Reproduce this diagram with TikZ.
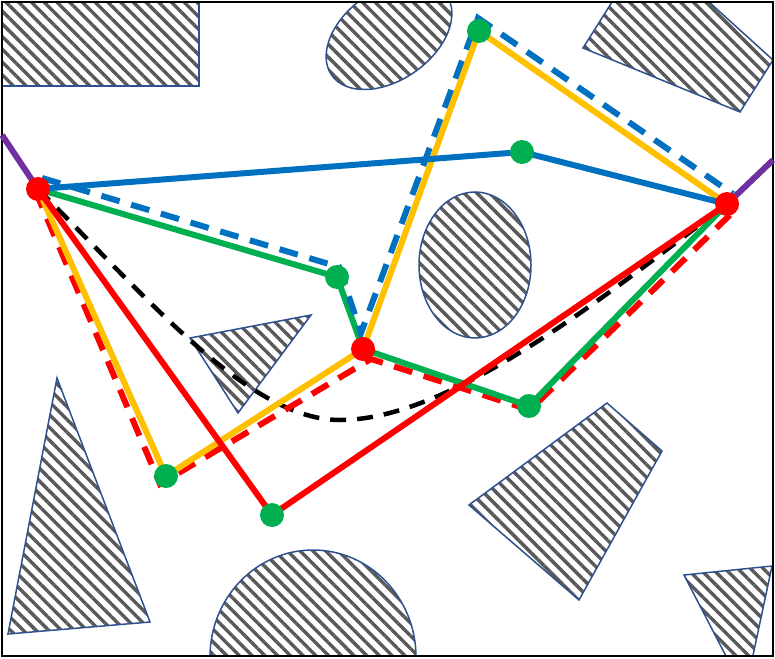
\documentclass[tikz,border=0pt]{standalone}
\usetikzlibrary{patterns.meta}

\definecolor{obsblue}{RGB}{47,82,143}
\definecolor{hatchgray}{RGB}{89,89,89}
\definecolor{pathblue}{RGB}{0,112,192}
\definecolor{pathgreen}{RGB}{0,176,80}
\definecolor{pathyellow}{RGB}{255,192,0}
\definecolor{pathred}{RGB}{255,0,0}
\definecolor{pathpurple}{RGB}{112,48,160}

\tikzset{
    obstacle/.style={draw=obsblue, line width=1.5pt,
        pattern={Lines[angle=-45, distance=9pt, line width=3.4pt]},
        pattern color=hatchgray},
    longdash/.style={dash pattern=on 19pt off 12pt},
}

\begin{document}
\begin{tikzpicture}[x=1pt, y=-1pt]
\useasboundingbox (0,0) rectangle (775,658);

% coordinates
\coordinate (S) at (38,189);
\coordinate (G) at (727,204);
\coordinate (M) at (363,349);
\coordinate (A) at (479,31);
\coordinate (B) at (522,152);
\coordinate (C) at (337,277);
\coordinate (D) at (529,406);
\coordinate (E) at (166,476);
\coordinate (F) at (272,515);
\coordinate (wl) at (2,135);
\coordinate (wr) at (773,160);

% obstacles
\begin{scope}
    \clip (2,2) rectangle (773,656);
    \draw[obstacle] (2,2) rectangle (199,86);
    \draw[obstacle, rotate around={35:(389,35)}] (389,35) ellipse [x radius=70, y radius=45];
    \draw[obstacle] (612,2) -- (583,48) -- (740,112) -- (773,60) -- (709,2) -- cycle;
    \draw[obstacle] (475,265) ellipse [x radius=56, y radius=73];
    \draw[obstacle] (190,338) -- (311,315) -- (238,413) -- cycle;
    \draw[obstacle] (57,378) -- (8,634) -- (150,622) -- cycle;
    \draw[obstacle] (313,657) ellipse [x radius=103, y radius=107];
    \draw[obstacle] (607,403) -- (662,451) -- (579,600) -- (469,505) -- cycle;
    \draw[obstacle] (684,575) -- (772,566) -- (752,660) -- (728,660) -- cycle;
\end{scope}

% frame
\draw[line width=2pt] (2,2) rectangle (773,656);

% paths
\begin{scope}[line width=6pt]
    \draw[pathpurple] (wl) -- (S);
    \draw[pathpurple] (G) -- (wr);
    \draw[black, line width=4.5pt, dash pattern=on 16pt off 11pt] (S)
        .. controls (150,301) and (250,420) .. (340,420)
        .. controls (450,420) and (600,300) .. (G);
    \draw[pathred, longdash] ([shift={(-3,1)}]S)
        -- ([shift={(-6,8)}]E)
        -- ([shift={(8,10)}]M)
        -- ([shift={(1,4)}]D)
        -- ([shift={(8,6)}]G);
    \draw[pathgreen] (S) -- (C) -- (M) -- (D) -- (G);
    \draw[pathblue, longdash] ([shift={(4,-11)}]S)
        -- ([shift={(2,-10)}]C)
        -- ([shift={(-2,-16)}]M)
        -- ([shift={(-1,-13)}]A)
        -- ([shift={(6,-10)}]G);
    \draw[pathyellow] (S) -- (E) -- (M) -- (A) -- (G);
    \draw[pathblue] (S) -- (B) -- (G);
    \draw[pathred] (S) -- (F) -- (G);
\end{scope}

% points
\foreach \p in {S, G, M}
    \fill[pathred] (\p) circle [radius=12];
\foreach \p in {A, B, C, D, E, F}
    \fill[pathgreen] (\p) circle [radius=12];

\end{tikzpicture}
\end{document}
